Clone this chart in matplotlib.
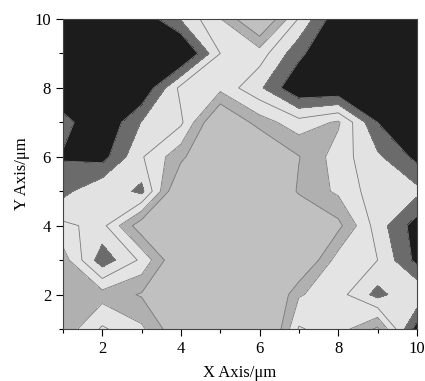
import numpy as np
import matplotlib
matplotlib.use("Agg")
import matplotlib.pyplot as plt
from matplotlib.ticker import MultipleLocator

plt.rcParams['font.family'] = ['Liberation Serif', 'DejaVu Serif']

# grid positions (um)
x_pos = np.arange(1, 11)
y_pos = np.arange(1, 11)

# values, one row per y (y = 1 ... 10)
row_y1 = [1.3, 3.15, 2.2, 0.0, -1.5, -1.5, 3.1, 2.5, 0.8, 5.5]
row_y2 = [1.5, 1.6, 0.9, -1.5, -1.5, -1.5, 1.9, 2.6, 4.35, 3.0]
row_y3 = [1.5, 4.6, 2.8, -0.3, -1.5, -1.5, -0.5, 2.5, 3.0, 5.3]
row_y4 = [2.8, 3.3, 0.3, -1.5, -1.5, -1.5, -1.0, 0.7, 3.5, 5.5]
row_y5 = [4.3, 3.1, 4.3, -0.5, -1.5, -1.5, 1.2, 2.2, 3.6, 3.7]
row_y6 = [5.1, 5.4, 3.1, 1.3, -1.0, -1.0, 0.95, 2.5, 3.8, 5.3]
row_y7 = [4.6, 6.0, 3.95, 3.2, -0.5, 1.5, 2.6, 1.85, 5.0, 6.0]
row_y8 = [6.0, 6.0, 6.0, 2.7, 2.3, 3.8, 6.0, 6.0, 6.0, 6.0]
row_y9 = [6.0, 6.0, 6.0, 6.5, 3.0, 2.5, 4.7, 6.5, 6.0, 6.0]
row_y10 = [6.0, 6.0, 5.8, 3.9, 2.05, -0.5, 3.1, 5.8, 6.0, 6.0]

levels = [-10, 1, 2, 3, 4, 5, 10]
fill_colors = ['#c0c0c0', '#b0b0b0', '#e4e4e4', '#e2e2e2', '#6b6b6b', '#1c1c1c']

z = np.array([row_y1, row_y2, row_y3, row_y4, row_y5,
              row_y6, row_y7, row_y8, row_y9, row_y10])

fig = plt.figure(figsize=(4.25, 3.81), dpi=100)
ax = fig.add_axes([0.148, 0.1365, 0.833, 0.8135])

ax.contourf(x_pos, y_pos, z, levels=levels, colors=fill_colors)
ax.contour(x_pos, y_pos, z, levels=levels[1:-1], colors='#7a7a7a', linewidths=0.6)

ax.set_xlim(1, 10)
ax.set_ylim(1, 10)
ax.xaxis.set_major_locator(MultipleLocator(2))
ax.xaxis.set_minor_locator(MultipleLocator(1))
ax.yaxis.set_major_locator(MultipleLocator(2))
ax.yaxis.set_minor_locator(MultipleLocator(1))
ax.tick_params(which='both', direction='out', top=False, right=False, labelsize=12, width=0.8)
ax.tick_params(which='major', length=5)
ax.tick_params(which='minor', length=3)
for s in ax.spines.values():
    s.set_linewidth(0.8)
    s.set_color('#444444')

ax.set_xlabel('X Axis/μm', fontsize=12, labelpad=6)
ax.set_ylabel('Y Axis/μm', fontsize=12, labelpad=3)

fig.savefig('out.png', dpi=100)
